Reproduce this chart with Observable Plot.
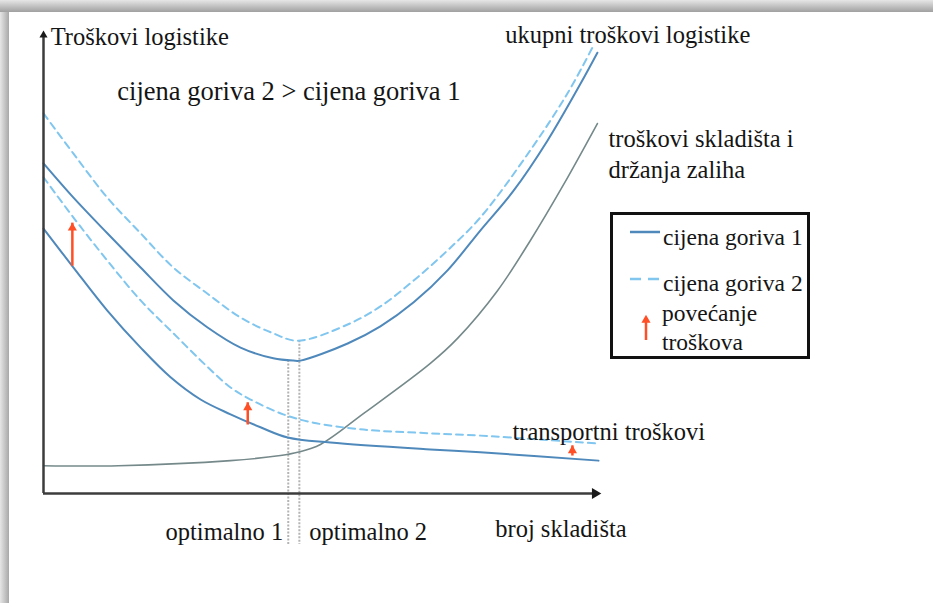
<!DOCTYPE html>
<html><head><meta charset="utf-8">
<script src="https://cdn.jsdelivr.net/npm/d3@7"></script>
<script src="https://cdn.jsdelivr.net/npm/@observablehq/plot@0.6"></script>
<style>
body{margin:0;background:#fff;width:933px;height:603px;overflow:hidden;position:relative;font-family:"Liberation Serif","Times New Roman",serif;}
#shadowTop{position:absolute;left:0;top:0;width:933px;height:12px;background:linear-gradient(to bottom,#e6e6e6,#a0a0a0);z-index:3}
#shadowLeft{position:absolute;left:0;top:0;width:9px;height:603px;background:linear-gradient(to right,#e6e6e6,#a8a8a8);z-index:2}
#chart{position:absolute;left:0;top:0}
#legend{position:absolute;left:610px;top:212px}
</style></head><body>
<div id="shadowTop"></div><div id="shadowLeft"></div>
<div id="chart"></div><div id="legend"></div>
<script>
// x: broj skladišta (0–100, conceptual), y: troškovi (0–100, conceptual)
const transport1X = [0,5.4,11.5,17.5,22.9,28.3,33.7,39.1,44.0,51.7,69.7,78.7,100];
const transport1Y = [57.2,48.8,39.5,31.5,25.1,20.3,17.1,14.3,12.1,11.0,9.5,8.9,7.1];

const transport2X = [0,5.4,11.5,17.5,23.4,29.5,33.7,37.3,43.2,48.6,57.7,69.7,78.7,99.8];
const transport2Y = [68.3,59.6,50.3,41.7,34.6,27.4,22.9,20.3,17.1,15.3,13.8,13.0,12.5,10.8];

const total1X = [0,5.4,11.5,17.5,23.4,29.5,35.5,41.4,45.0,46.3,54.8,60.7,66.7,72.8,78.7,84.7,90.8,96.8,99.8];
const total1Y = [71.3,63.9,56.2,48.8,41.7,35.9,31.5,29.2,28.7,28.7,32.4,36.1,41.3,48.2,56.8,65.4,76.2,88.6,95.2];

const total2X = [0,5.4,11.5,17.5,23.4,29.5,35.5,41.4,45.8,54.8,60.7,66.7,72.8,78.7,87.7,94.4,98.9];
const total2Y = [82.1,73.4,63.9,56.2,48.8,43.2,38.0,34.6,33.0,36.5,40.4,46.0,52.5,59.6,74.1,86.4,96.3];

const storageX = [0,13.5,33.7,42.7,45.8,49.9,57.7,69.7,74.6,81.8,87.7,93.7,99.8];
const storageY = [6.0,6.0,7.1,8.2,8.9,10.6,17.3,28.1,33.5,43.8,54.6,66.7,79.9];

// optimum markers
const optimumX = [44.1, 46.1];
const optimumY = [28.7, 33.0];
const optimumLabels = ["optimalno 1", "optimalno 2"];

// cost increase arrows
const arrowX = [5.2, 36.8, 95.3];
const arrowFrom = [49.2, 14.9, 8.2];
const arrowTo = [58.5, 19.7, 10.4];

// annotation texts
const headline = "cijena goriva 2 > cijena goriva 1";
const labelTexts = ["Troškovi logistike", "ukupni troškovi logistike",
  "troškovi skladišta i\ndržanja zaliha", "transportni troškovi", "broj skladišta"];
const labelX = [1.3, 83.2, 101.8, 84.5, 81.4];
const labelY = [98.9, 99.4, 73.6, 13.6, -7.3];

const legendLabels = ["cijena goriva 1", "cijena goriva 2", "povećanje\ntroškova"];

const zip = (xs, ys) => xs.map((x, i) => ({x, y: ys[i]}));
const blue = "#4f89bb", lightBlue = "#80c6ef", grayGreen = "#75898a", red = "#ff4f26", ink = "#151515";
const serif = "'Liberation Serif', 'Times New Roman', serif";

const arrows = arrowX.map((x, i) => ({x, y1: arrowFrom[i], y2: arrowTo[i]}));
const opt = optimumX.map((x, i) => ({x, y: optimumY[i], label: optimumLabels[i]}));
const labels = labelTexts.map((t, i) => ({t, x: labelX[i], y: labelY[i]}));
const curve = "catmull-rom";

const chart = Plot.plot({
  width: 933, height: 603,
  marginLeft: 43, marginRight: 335, marginTop: 30, marginBottom: 110,
  x: {domain: [0, 100], axis: null},
  y: {domain: [0, 100], axis: null},
  style: {fontFamily: serif, background: "transparent", overflow: "visible"},
  marks: [
    Plot.ruleX(opt, {x: "x", y1: "y", y2: -11, stroke: "#b4b4b4", strokeWidth: 2, strokeDasharray: "2,1.5"}),
    Plot.line(zip(storageX, storageY), {x: "x", y: "y", curve, stroke: grayGreen, strokeWidth: 1.6}),
    Plot.line(zip(transport2X, transport2Y), {x: "x", y: "y", curve, stroke: lightBlue, strokeWidth: 2, strokeDasharray: "7,5"}),
    Plot.line(zip(total2X, total2Y), {x: "x", y: "y", curve, stroke: lightBlue, strokeWidth: 2, strokeDasharray: "7,5"}),
    Plot.line(zip(transport1X, transport1Y), {x: "x", y: "y", curve, stroke: blue, strokeWidth: 2}),
    Plot.line(zip(total1X, total1Y), {x: "x", y: "y", curve, stroke: blue, strokeWidth: 2}),
    Plot.ruleX([0], {y1: 0, y2: 98.5, stroke: "#3c3c3c", strokeWidth: 2.5}),
    Plot.ruleY([0], {x1: 0, x2: 99, stroke: "#3c3c3c", strokeWidth: 2.5}),
    Plot.dot([{x: 0, y: 100}], {x: "x", y: "y", symbol: "triangle", r: 3, fill: "#1a1a1a", stroke: null, dy: 4.6}),
    Plot.dot([{x: 100.5, y: 0}], {x: "x", y: "y", symbol: "triangle", r: 4, fill: "#1a1a1a", stroke: null, rotate: 90, dx: -6.2}),
    Plot.link(arrows, {x1: "x", x2: "x", y1: "y1", y2: "y2", stroke: red, strokeWidth: 2.5}),
    Plot.dot(arrows, {x: "x", y: "y2", symbol: "triangle", r: 3.4, fill: red, stroke: null, dy: 5.3}),
    Plot.text([headline], {x: 13.3, y: 86.8, text: d => d, textAnchor: "start", fontSize: 26.5, fill: ink}),
    Plot.text(labels, {x: "x", y: "y", text: "t", textAnchor: "start", fontSize: 24.5, fill: ink, lineHeight: 1.25}),
    Plot.text(opt.slice(0, 1), {x: "x", y: -8.4, text: "label", textAnchor: "end", dx: -5, fontSize: 24.5, fill: ink}),
    Plot.text(opt.slice(1), {x: "x", y: -8.4, text: "label", textAnchor: "start", dx: 10, fontSize: 24.5, fill: ink})
  ]
});
document.getElementById("chart").appendChild(chart);

// legend
const lg = d3.select("#legend").append("svg").attr("width", 200).attr("height", 147)
  .style("font-family", serif);
lg.append("rect").attr("x", 1.5).attr("y", 1.5).attr("width", 197).attr("height", 144)
  .attr("fill", "white").attr("stroke", "#111").attr("stroke-width", 3);
lg.append("line").attr("x1", 20).attr("x2", 50).attr("y1", 20).attr("y2", 20).attr("stroke", blue).attr("stroke-width", 2.5);
lg.append("line").attr("x1", 20).attr("x2", 50).attr("y1", 67).attr("y2", 67).attr("stroke", lightBlue).attr("stroke-width", 2.5).attr("stroke-dasharray", "11,7");
lg.append("line").attr("x1", 36).attr("x2", 36).attr("y1", 128).attr("y2", 108).attr("stroke", red).attr("stroke-width", 2.5);
lg.append("path").attr("d", d3.symbol(d3.symbolTriangle, 36)).attr("transform", "translate(36,108)").attr("fill", red);
const rows = [[53, 25, legendLabels[0]], [53, 71, legendLabels[1]]];
rows.forEach(([x, y, t]) => lg.append("text").attr("x", x).attr("y", y).attr("dy", "0.35em").attr("font-size", 23.5).attr("fill", ink).text(t));
legendLabels[2].split("\n").forEach((t, i) => lg.append("text").attr("x", 52).attr("y", 101 + i * 29).attr("dy", "0.35em").attr("font-size", 23.5).attr("fill", ink).text(t));
</script></body></html>
